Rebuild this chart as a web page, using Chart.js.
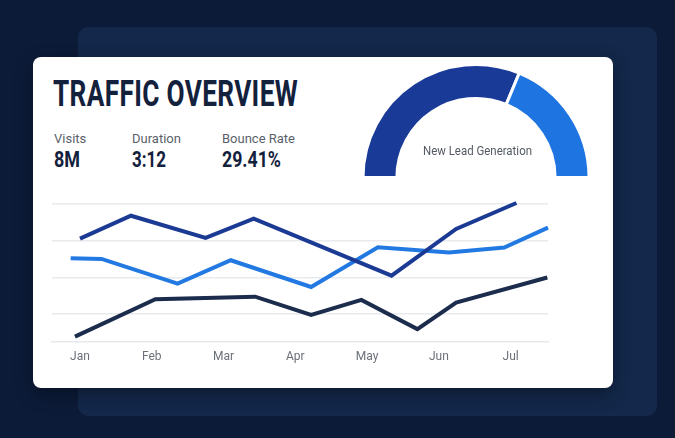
<!DOCTYPE html>
<html>
<head>
<meta charset="utf-8">
<script src="https://cdn.jsdelivr.net/npm/chart.js@4"></script>
<style>
  html, body { margin:0; padding:0; }
  body { width:675px; height:438px; background:#0c1b38; position:relative; overflow:hidden; font-family: Roboto, "Noto Sans", sans-serif; }
  #back { position:absolute; left:78px; top:27px; width:579px; height:389px; background:#13284a; border-radius:10px; }
  #card { position:absolute; left:33px; top:57px; width:580px; height:331px; background:#fff; border-radius:8px; box-shadow:0 6px 18px rgba(0,0,0,0.35); }
  .fit { position:absolute; white-space:nowrap; transform-origin:0 0; }
  #title { left:53px; top:75px; font-size:37px; font-weight:700; color:#13213d; line-height:37px; letter-spacing:0.5px; }
  .lab { font-size:13px; color:#5a5f6a; line-height:14px; top:132px; }
  .val { font-size:22px; font-weight:700; color:#13213d; line-height:22px; top:149px; }
  #gaugeLabel { font-size:13px; color:#555a63; line-height:14px; top:144px; }
  canvas { position:absolute; }
</style>
</head>
<body>
<div id="back"></div>
<div id="card"></div>
<div class="fit" id="title" data-w="245">TRAFFIC OVERVIEW</div>
<div class="fit lab" style="left:54px">Visits</div>
<div class="fit lab" style="left:132px">Duration</div>
<div class="fit lab" style="left:222px">Bounce Rate</div>
<div class="fit val" style="left:54px" data-w="26">8M</div>
<div class="fit val" style="left:132px" data-w="34">3:12</div>
<div class="fit val" style="left:222px" data-w="59">29.41%</div>
<canvas id="gauge" width="230" height="116" style="left:361px; top:63px; width:230px; height:116px;"></canvas>
<div class="fit" id="gaugeLabel" data-w="109" data-cx="477">New Lead Generation</div>
<canvas id="lines" width="675" height="438" style="left:0; top:0; width:675px; height:438px;"></canvas>
<script>
// ---- data ----
const monthLabels = ['Jan','Feb','Mar','Apr','May','Jun','Jul'];
const gaugeLabels = ['New Lead Generation', 'Remaining'];
const gaugeValues = [62.5, 37.5];
// x positions in month units (Jan = 0), y values in chart units
const seriesAx = [0.0, 0.71, 1.75, 2.42, 4.34, 5.24, 6.08];
const seriesAy = [76.4, 92.0, 76.9, 90.0, 51.2, 83.0, 100.7];
const seriesBx = [-0.13, 0.30, 1.36, 2.10, 3.22, 4.15, 5.14, 5.91, 6.52];
const seriesBy = [63.1, 62.6, 45.8, 61.7, 43.5, 70.5, 66.9, 70.3, 83.9];
const seriesCx = [-0.07, 1.05, 2.44, 3.22, 3.92, 4.70, 5.24, 6.51];
const seriesCy = [9.7, 35.2, 36.9, 24.5, 34.7, 14.8, 32.9, 49.9];
const yTicks = [25, 50, 75, 100];

// fit condensed text widths
document.querySelectorAll('.fit[data-w]').forEach(el => {
  const w = el.getBoundingClientRect().width;
  const target = parseFloat(el.dataset.w);
  el.style.transform = 'scaleX(' + (target / w) + ')';
  if (el.dataset.cx) el.style.left = (parseFloat(el.dataset.cx) - target / 2) + 'px';
});

const pts = (xs, ys) => xs.map((x, i) => ({x: x, y: ys[i]}));

new Chart(document.getElementById('gauge'), {
  type: 'doughnut',
  data: {
    labels: gaugeLabels,
    datasets: [{
      data: gaugeValues,
      backgroundColor: ['#1a3a98', '#1e74e0'],
      borderColor: '#ffffff',
      borderWidth: 3
    }]
  },
  options: {
    responsive: false,
    animation: false,
    rotation: -90,
    circumference: 180,
    cutout: '70%',
    layout: { padding: 0 },
    plugins: { legend: { display: false }, tooltip: { enabled: false } }
  }
});

new Chart(document.getElementById('lines'), {
  type: 'line',
  data: {
    datasets: [
      { label: 'Series A', data: pts(seriesAx, seriesAy), borderColor: '#1b3a94', borderWidth: 4, pointRadius: 0, tension: 0, fill: false },
      { label: 'Series B', data: pts(seriesBx, seriesBy), borderColor: '#2279e2', borderWidth: 4, pointRadius: 0, tension: 0, fill: false },
      { label: 'Series C', data: pts(seriesCx, seriesCy), borderColor: '#1b2c4d', borderWidth: 4, pointRadius: 0, tension: 0, fill: false }
    ]
  },
  options: {
    responsive: false,
    animation: false,
    clip: false,
    layout: { padding: { left: 52, right: 127, top: 204, bottom: 0 } },
    plugins: { legend: { display: false }, tooltip: { enabled: false } },
    scales: {
      x: {
        type: 'linear',
        min: -0.39,
        max: 6.52,
        afterBuildTicks: s => { s.ticks = monthLabels.map((_, i) => ({ value: i })); },
        afterFit: s => { s.height = 96; },
        ticks: {
          callback: v => monthLabels[v],
          color: '#6b6f78',
          font: { family: 'Roboto', size: 12 },
          padding: 8,
          maxRotation: 0,
          autoSkip: false
        },
        grid: { display: false, drawTicks: false },
        border: { display: true, color: '#e6e8ec', width: 1.5 }
      },
      y: {
        min: 6,
        max: 100,
        afterBuildTicks: s => { s.ticks = yTicks.map(v => ({ value: v })); },
        afterFit: s => { s.width = 0; },
        ticks: { display: false },
        grid: { color: '#e8eaee', lineWidth: 1.5, drawTicks: false },
        border: { display: false }
      }
    }
  }
});
</script>
</body>
</html>
